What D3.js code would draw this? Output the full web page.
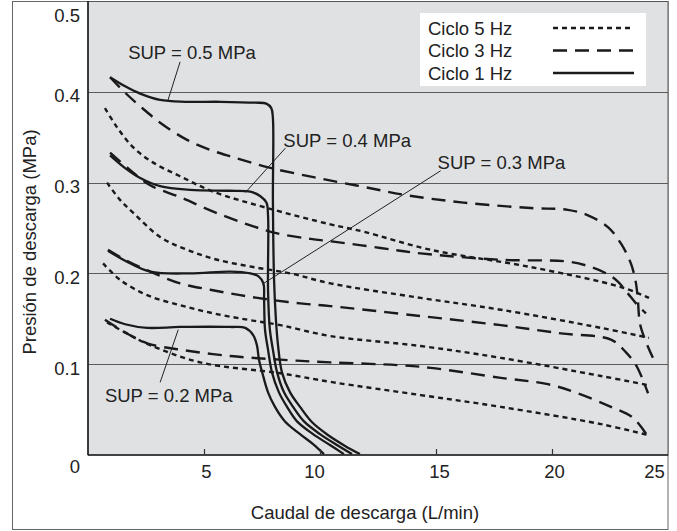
<!DOCTYPE html>
<html>
<head>
<meta charset="utf-8">
<script src="https://cdn.jsdelivr.net/npm/d3@7"></script>
<style>
  html, body { margin: 0; padding: 0; background: #fff; }
  svg { display: block; }
  text { font-family: "Liberation Sans", Arial, Helvetica, sans-serif; fill: #222; }
</style>
</head>
<body>
<svg id="chart" width="677" height="531"></svg>
<script>
// ---------------- DATA ----------------
const xTicks = [5, 10, 15, 20, 25];
const yTicks = [0, 0.1, 0.2, 0.3, 0.4, 0.5];
const gridValues = [0.1, 0.2, 0.3, 0.4];
const legendLabels = ["Ciclo 5 Hz", "Ciclo 3 Hz", "Ciclo 1 Hz"];
const xTitle = "Caudal de descarga (L/min)";
const yTitle = "Presión de descarga (MPa)";

// Ciclo 1 Hz (solid)
const hz1_sup05 = [[0.95,0.416],[1.60,0.406],[2.25,0.398],[3.11,0.391],[4.19,0.389],[5.70,0.389],[7.21,0.388],[7.69,0.387],[7.90,0.382],[7.97,0.371],[7.97,0.281],[8.02,0.193],[8.10,0.149],[8.19,0.121],[8.36,0.091],[8.71,0.069],[9.14,0.053],[9.66,0.036],[10.34,0.022],[11.08,0.010],[11.72,0.001]];
const hz1_sup04 = [[0.95,0.330],[1.60,0.316],[2.25,0.305],[3.11,0.296],[4.40,0.292],[6.13,0.291],[7.00,0.290],[7.43,0.285],[7.69,0.278],[7.76,0.264],[7.76,0.182],[7.84,0.138],[7.97,0.116],[8.15,0.091],[8.45,0.069],[8.84,0.053],[9.31,0.037],[10.00,0.023],[10.73,0.011],[11.38,0.001]];
const hz1_sup03 = [[0.86,0.225],[1.60,0.214],[2.68,0.202],[4.40,0.200],[6.13,0.202],[7.00,0.200],[7.34,0.197],[7.56,0.189],[7.59,0.171],[7.63,0.138],[7.76,0.116],[7.93,0.091],[8.23,0.069],[8.58,0.053],[9.01,0.037],[9.70,0.023],[10.43,0.011],[11.03,0.001]];
const hz1_sup02 = [[0.95,0.150],[1.60,0.144],[2.55,0.140],[3.97,0.141],[6.13,0.141],[6.78,0.140],[7.12,0.132],[7.28,0.121],[7.37,0.105],[7.54,0.088],[7.76,0.069],[8.06,0.053],[8.49,0.037],[9.14,0.023],[9.70,0.012],[10.17,0.001]];

// Ciclo 3 Hz (dashed)
const hz3_sup05 = [[0.95,0.416],[1.60,0.399],[2.25,0.384],[3.11,0.366],[4.27,0.347],[5.27,0.336],[6.26,0.328],[7.73,0.317],[9.72,0.306],[11.74,0.296],[13.77,0.286],[16.19,0.278],[19.08,0.272],[20.68,0.270],[21.55,0.264],[22.41,0.251],[22.97,0.233],[23.40,0.211],[23.62,0.189],[23.70,0.171],[23.79,0.145],[24.01,0.127],[24.35,0.107]];
const hz3_sup04 = [[0.95,0.333],[1.81,0.314],[2.68,0.297],[3.97,0.284],[5.40,0.268],[6.87,0.254],[8.16,0.244],[9.59,0.238],[10.58,0.235],[12.61,0.228],[14.34,0.222],[17.79,0.215],[20.68,0.213],[21.68,0.207],[22.41,0.199],[22.84,0.191],[23.27,0.178],[23.62,0.167],[24.05,0.156]];
const hz3_sup03 = [[0.86,0.226],[1.60,0.215],[2.68,0.202],[3.97,0.189],[5.27,0.182],[6.56,0.176],[7.86,0.171],[9.15,0.167],[10.45,0.164],[14.34,0.153],[17.79,0.143],[20.38,0.134],[22.54,0.127],[23.19,0.113],[23.62,0.099],[23.88,0.085],[24.14,0.068]];
const hz3_sup02 = [[0.73,0.149],[1.60,0.135],[2.55,0.123],[3.97,0.116],[6.13,0.109],[8.29,0.105],[10.45,0.102],[13.34,0.099],[14.77,0.096],[17.79,0.085],[19.82,0.078],[21.11,0.068],[22.54,0.053],[23.49,0.041],[24.14,0.020]];

// Ciclo 5 Hz (dotted)
const hz5_sup05 = [[0.73,0.382],[1.25,0.361],[1.94,0.339],[2.81,0.322],[3.97,0.307],[5.40,0.290],[7.73,0.272],[10.45,0.254],[11.87,0.246],[14.77,0.226],[19.08,0.207],[22.97,0.185],[24.18,0.173]];
const hz5_sup04 = [[0.82,0.300],[1.38,0.281],[1.94,0.267],[3.11,0.240],[4.27,0.226],[5.57,0.215],[7.12,0.207],[8.72,0.200],[10.45,0.189],[14.34,0.173],[17.79,0.160],[22.11,0.140],[24.18,0.129]];
const hz5_sup03 = [[0.65,0.211],[1.38,0.193],[2.55,0.176],[3.97,0.165],[5.40,0.156],[6.87,0.149],[8.29,0.143],[10.45,0.131],[14.34,0.120],[17.79,0.107],[22.11,0.087],[24.14,0.077]];
const hz5_sup02 = [[0.82,0.146],[1.81,0.132],[2.68,0.121],[4.84,0.102],[8.29,0.090],[10.58,0.080],[14.34,0.066],[17.79,0.053],[22.11,0.034],[24.14,0.022]];

// Annotation labels: text, text anchor point, leader start, leader end (data units)
const annLabels = ["SUP = 0.5 MPa", "SUP = 0.4 MPa", "SUP = 0.3 MPa", "SUP = 0.2 MPa"];
const annText   = [[1.73,0.443],[8.42,0.347],[15.07,0.322],[0.73,0.066]];
const annFrom   = [[3.97,0.433],[8.51,0.338],[15.20,0.313],[3.11,0.080]];
const annTo     = [[3.45,0.391],[6.78,0.289],[7.51,0.188],[3.89,0.138]];

// ---------------- DRAW ----------------
const FS = 18.5;
const svg = d3.select("#chart");
const L = 88, R = 668, T = 1, B = 455;
const x = d3.scaleLinear().domain([0, 25]).range([L, R]);
const y = d3.scaleLinear().domain([0, 0.5]).range([B, T]);

// outer frame
svg.append("rect").attr("x", 12.5).attr("y", 1.5).attr("width", R - 12.5).attr("height", 528)
  .attr("fill", "#fff").attr("stroke", "#666").attr("stroke-width", 1);

// plot background
svg.append("rect").attr("x", L).attr("y", T).attr("width", R - L).attr("height", B - T)
  .attr("fill", "#e0e1e3");

// gridlines
svg.append("g").selectAll("line").data(gridValues).join("line")
  .attr("x1", L).attr("x2", R)
  .attr("y1", d => Math.round(y(d)) + 0.5).attr("y2", d => Math.round(y(d)) + 0.5)
  .attr("stroke", "#5c5c5c").attr("stroke-width", 1.1);

// curves
const line = d3.line().x(d => x(d[0])).y(d => y(d[1])).curve(d3.curveCatmullRom.alpha(0.5));
const styles = {
  solid:  { dash: null,  width: 2.3 },
  dashed: { dash: "14,8", width: 2.4 },
  dotted: { dash: "5,4", width: 2.4 }
};
const series = [
  { data: hz5_sup05, s: "dotted" }, { data: hz5_sup04, s: "dotted" },
  { data: hz5_sup03, s: "dotted" }, { data: hz5_sup02, s: "dotted" },
  { data: hz3_sup05, s: "dashed" }, { data: hz3_sup04, s: "dashed" },
  { data: hz3_sup03, s: "dashed" }, { data: hz3_sup02, s: "dashed" },
  { data: hz1_sup05, s: "solid" },  { data: hz1_sup04, s: "solid" },
  { data: hz1_sup03, s: "solid" },  { data: hz1_sup02, s: "solid" }
];
svg.append("g").selectAll("path").data(series).join("path")
  .attr("d", d => line(d.data))
  .attr("fill", "none").attr("stroke", "#1a1a1a")
  .attr("stroke-width", d => styles[d.s].width)
  .attr("stroke-dasharray", d => styles[d.s].dash)
  .attr("stroke-linejoin", "round");

// plot border
svg.append("rect").attr("x", L).attr("y", T + 0.5).attr("width", R - L).attr("height", B - T - 0.5)
  .attr("fill", "none").attr("stroke", "#555").attr("stroke-width", 1);
svg.append("line").attr("x1", L).attr("x2", L).attr("y1", T).attr("y2", B)
  .attr("stroke", "#222").attr("stroke-width", 1.6);
svg.append("line").attr("x1", L).attr("x2", R).attr("y1", B).attr("y2", B)
  .attr("stroke", "#222").attr("stroke-width", 1.6);

// x axis
const xAxis = svg.append("g").attr("transform", `translate(0,${B})`)
  .call(d3.axisBottom(x).tickValues(xTicks).tickSizeInner(-6).tickSizeOuter(0).tickFormat(d3.format("d")));
xAxis.select(".domain").remove();
xAxis.selectAll(".tick line").attr("stroke", "#333").attr("stroke-width", 1.2)
  .attr("display", d => d === 25 ? "none" : null);
xAxis.selectAll(".tick text").attr("y", 10).attr("dy", "0.71em")
  .attr("font-size", FS).attr("fill", "#222")
  .attr("dx", d => ({5: 2, 10: -6, 15: 3, 20: 2, 25: -14})[d] || 0)
  .style("font-family", '"Liberation Sans", Arial, sans-serif');

// y axis
const yAxis = svg.append("g").attr("transform", `translate(${L},0)`)
  .call(d3.axisLeft(y).tickValues(yTicks).tickSize(0).tickPadding(8)
    .tickFormat(d => d === 0 ? "0" : d3.format(".1f")(d)));
yAxis.select(".domain").remove();
yAxis.selectAll(".tick text").attr("font-size", FS).attr("fill", "#222")
  .attr("dy", d => d === 0.5 ? "1.1em" : d === 0 ? "0.95em" : "0.55em")
  .style("font-family", '"Liberation Sans", Arial, sans-serif');

// axis titles
svg.append("text").attr("x", 365).attr("y", 519).attr("text-anchor", "middle")
  .attr("font-size", FS).text(xTitle);
svg.append("text").attr("transform", "translate(36,242) rotate(-90)").attr("text-anchor", "middle")
  .attr("font-size", FS).text(yTitle);

// annotations
const ann = svg.append("g");
annLabels.forEach((t, i) => {
  ann.append("line")
    .attr("x1", x(annFrom[i][0])).attr("y1", y(annFrom[i][1]))
    .attr("x2", x(annTo[i][0])).attr("y2", y(annTo[i][1]))
    .attr("stroke", "#222").attr("stroke-width", 1);
  ann.append("text").attr("x", x(annText[i][0])).attr("y", y(annText[i][1]))
    .attr("dy", "0.36em").attr("font-size", FS).text(t);
});

// legend
const lg = svg.append("g");
lg.append("rect").attr("x", 420).attr("y", 13).attr("width", 226).attr("height", 73).attr("fill", "#fff");
const legendStyles = ["dotted", "dashed", "solid"];
legendLabels.forEach((t, i) => {
  const yy = 28 + i * 22.5;
  lg.append("text").attr("x", 428).attr("y", yy).attr("dy", "0.36em").attr("font-size", FS).text(t);
  lg.append("line").attr("x1", 553).attr("x2", 634).attr("y1", yy).attr("y2", yy)
    .attr("stroke", "#1a1a1a").attr("stroke-width", styles[legendStyles[i]].width)
    .attr("stroke-dasharray", styles[legendStyles[i]].dash);
});
</script>
</body>
</html>
